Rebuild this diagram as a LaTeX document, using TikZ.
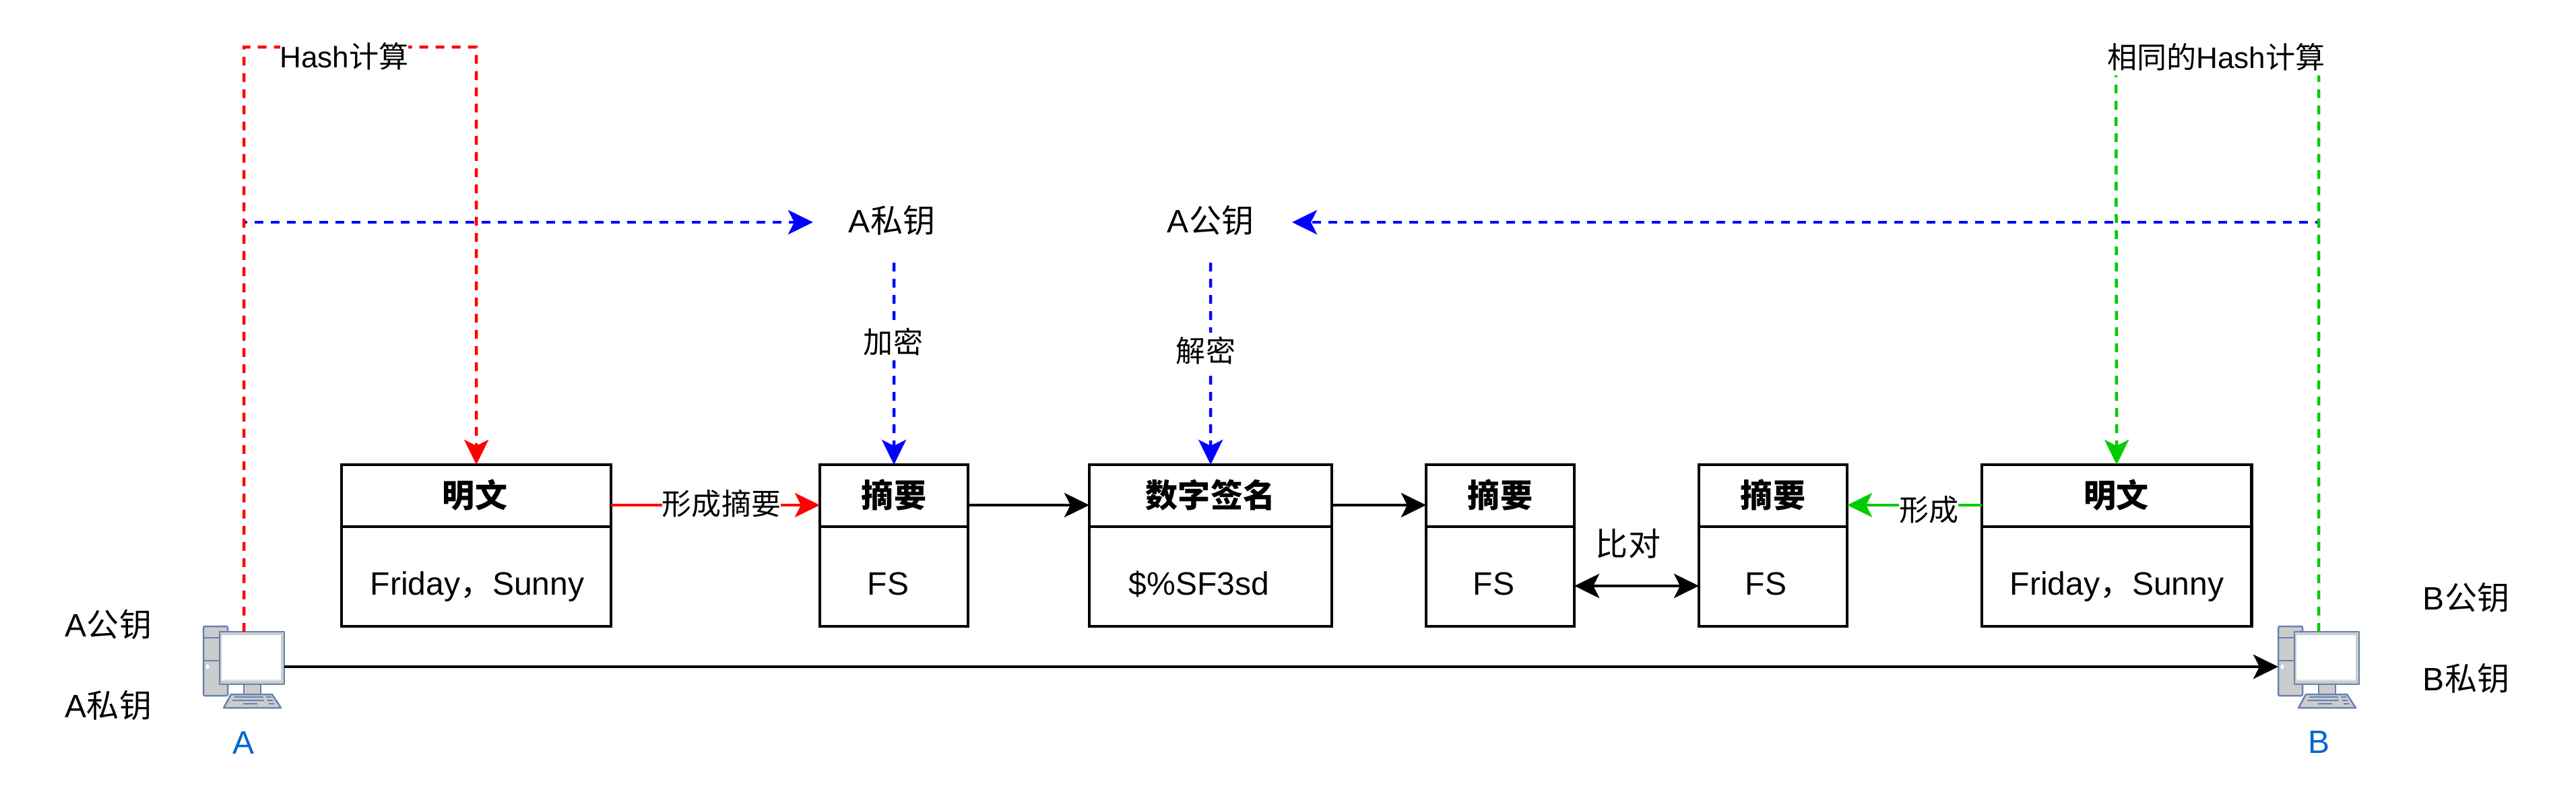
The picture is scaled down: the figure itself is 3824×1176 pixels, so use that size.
\documentclass[tikz,border=0pt]{standalone}
\usepackage{fontspec}
\setmainfont{Liberation Sans}
\newfontfamily\cjkf{Noto Sans CJK SC}
\newcommand{\zh}[1]{{\cjkf #1}}
\usetikzlibrary{arrows.meta}
\definecolor{pcline}{HTML}{6881B3}
\definecolor{pcfill}{HTML}{CCCCCC}
\definecolor{pcblue}{HTML}{0066CC}
\definecolor{mygreen}{HTML}{00CC00}
\tikzset{
  x=0.01cm,y=-0.01cm,
  conn/.style={line width=0.045cm,-{Stealth[length=0.37cm,width=0.36cm,inset=0.09cm]}},
  biconn/.style={line width=0.045cm,{Stealth[length=0.37cm,width=0.36cm,inset=0.09cm]}-{Stealth[length=0.37cm,width=0.36cm,inset=0.09cm]}},
  dashline/.style={conn,dash pattern=on 0.13cm off 0.11cm},
  recbox/.style={draw,line width=0.045cm,outer sep=0pt,inner sep=0pt,anchor=north west,minimum height=2.4cm},
  head/.style={font=\fontsize{13.66pt}{16pt}\selectfont\bfseries,inner sep=0pt},
  body/.style={font=\fontsize{13.66pt}{16pt}\selectfont,inner sep=0pt,anchor=base west},
  keytext/.style={font=\fontsize{13.66pt}{16pt}\selectfont,inner sep=0pt},
  lbl/.style={font=\fontsize{12.52pt}{15pt}\selectfont,fill=white,inner sep=0pt,minimum height=0.54cm},
  pcpart/.style={draw=pcline,fill=pcfill,line width=0.025cm,line join=round},
}
\newcommand{\pcicon}[2]{%
  \begin{scope}[shift={(#1,0)}]
    \draw[pcpart,rounded corners=0.02cm] (302,930) rectangle (338,1033);
    \draw[pcline,line width=0.025cm] (302,947) -- (338,947) (302,981) -- (338,981);
    \fill[white] (308,990) ellipse [x radius=0.025cm,y radius=0.035cm];
    \draw[pcpart] (362,1016) rectangle (387,1031);
    \draw[pcpart] (326,938) rectangle (422,1016);
    \fill[white!90!black] (329,943) rectangle (417,1011);
    \fill[white] (329,943) rectangle (417,1009);
    \draw[pcpart] (343,1031) -- (404,1031) -- (417,1051) -- (332,1051) -- cycle;
    \draw[pcline,line width=0.02cm] (348,1035) -- (391,1035) (395,1035) -- (403,1035)
      (345,1040) -- (392,1040) (397,1040) -- (405,1040)
      (361,1045) -- (382,1045) (399,1045) -- (407,1045);
    \node[inner sep=0pt,minimum width=1.2cm,minimum height=1.2cm] (#2) at (362,990) {};
  \end{scope}}
\begin{document}
\begin{tikzpicture}
\useasboundingbox (0,0) rectangle (3824,1176);
% computers
\pcicon{0}{pca}
\pcicon{3080}{pcb}
\coordinate (atop) at (362,938);
\coordinate (btop) at (3442,938);
\coordinate (acorner) at (362,70);
\coordinate (ared) at (707,70);
\coordinate (bcorner) at (3442,70);
\coordinate (bgreen) at (3141,70);
\coordinate (ablue) at (362,330);
\coordinate (bblue) at (3442,330);
\coordinate (aright) at (422,990);
\coordinate (bleft) at (3382,990);
% boxes
\node[recbox,minimum width=4cm] (b1) at (507,690) {};
\node[recbox,minimum width=2.2cm] (b2) at (1217,690) {};
\node[recbox,minimum width=3.6cm] (b3) at (1617,690) {};
\node[recbox,minimum width=2.2cm] (b4) at (2117,690) {};
\node[recbox,minimum width=2.2cm] (b5) at (2522,690) {};
\node[recbox,minimum width=4cm] (b6) at (2942,690) {};
\foreach \b in {b1,b2,b3,b4,b5,b6}{
  \draw[line width=0.045cm] (\b.west |- 0,782) -- (\b.east |- 0,782);
}
\node[head] (t1) at (705,735) {\zh{明文}};
\node[head] (t2) at (1327,735) {\zh{摘要}};
\node[head] (t3) at (1797,735) {\zh{数字签名}};
\node[head] (t4) at (2227,735) {\zh{摘要}};
\node[head] (t5) at (2632,735) {\zh{摘要}};
\node[head] (t6) at (3141,735) {\zh{明文}};
\node[body] (c1) at (549,883) {Friday\zh{，}Sunny};
\node[body] (c2) at (1287,883) {FS};
\node[body] (c3) at (1675,883) {\$\%SF3sd};
\node[body] (c4) at (2186,883) {FS};
\node[body] (c5) at (2590,883) {FS};
\node[body] (c6) at (2983,883) {Friday\zh{，}Sunny};
% key nodes
\node[keytext] (apriv) at (1324,327) {A\zh{私钥}};
\node[keytext] (apub) at (1797,327) {A\zh{公钥}};
\node[keytext] (a1) at (161,927) {A\zh{公钥}};
\node[keytext] (a2) at (161,1047) {A\zh{私钥}};
\node[keytext] (b1k) at (3661,887) {B\zh{公钥}};
\node[keytext] (b2k) at (3661,1007) {B\zh{私钥}};
\node[keytext,text=pcblue] (la) at (362,1103) {A};
\node[keytext,text=pcblue] (lb) at (3442,1102) {B};
\coordinate (aprivin) at (1207,330);
\coordinate (apubin) at (1918,330);
\coordinate (aprivout) at (1327,390);
\coordinate (apubout) at (1797,390);
% dashed connectors
\draw[dashline,blue] (atop) -- (ablue) -- (aprivin);
\draw[dashline,blue] (btop) -- (bblue) -- (apubin);
\draw[dashline,red] (atop) -- (acorner) -- (ared) -- (b1.north);
\draw[dashline,mygreen] (btop) -- (bcorner) -- (bgreen) -- (b6.north);
\draw[dashline,blue] (aprivout) -- (b2.north);
\draw[dashline,blue] (apubout) -- (b3.north);
% solid connectors
\draw[conn] (aright) -- (bleft);
\draw[conn,red] (b1.east |- 0,750) -- (b2.west |- 0,750);
\draw[conn] (b2.east |- 0,750) -- (b3.west |- 0,750);
\draw[conn] (b3.east |- 0,750) -- (b4.west |- 0,750);
\draw[conn,mygreen] (b6.west |- 0,750) -- (b5.east |- 0,750);
\draw[biconn] (b4.east |- 0,870) -- (b5.west |- 0,870);
% labels
\node[lbl] (h1) at (511,84) {Hash\zh{计算}};
\node[lbl] (h2) at (3290,85) {\zh{相同的}Hash\zh{计算}};
\node[lbl] (m1) at (1071,748) {\zh{形成摘要}};
\node[lbl] (m2) at (2863,757) {\zh{形成}};
\node[lbl] (m3) at (1326,508) {\zh{加密}};
\node[lbl] (m4) at (1790,521) {\zh{解密}};
\node[keytext] (m5) at (2417,807) {\zh{比对}};
\end{tikzpicture}
\end{document}
